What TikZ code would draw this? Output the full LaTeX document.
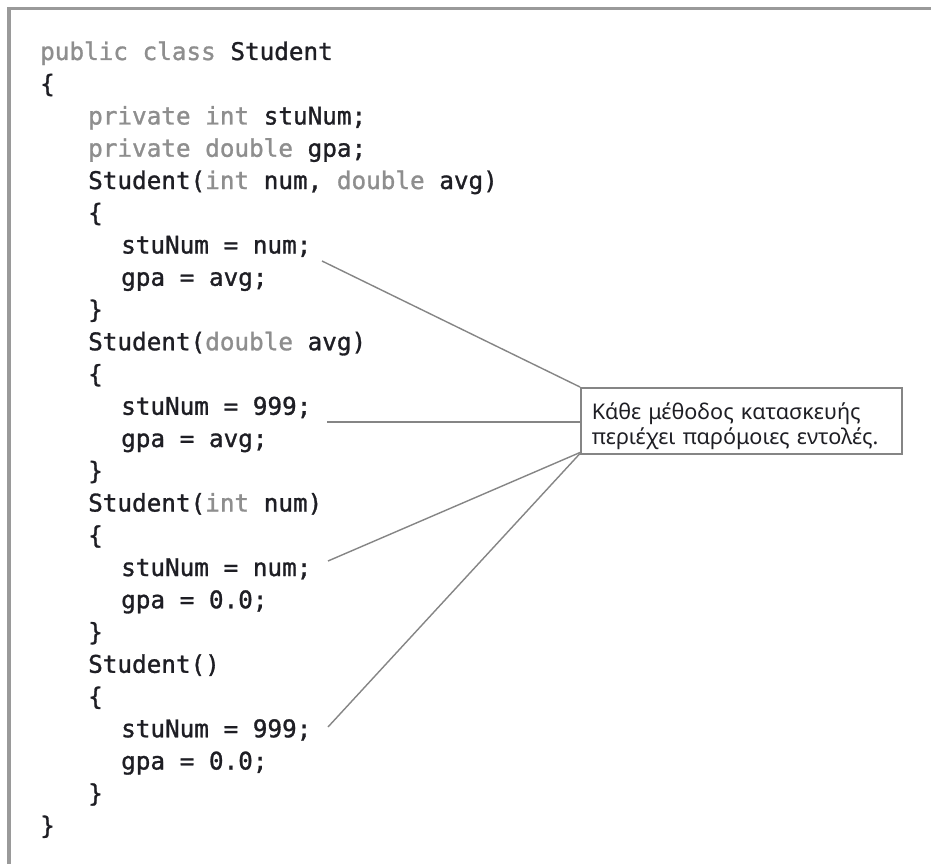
\documentclass[tikz,border=0pt]{standalone}
\usepackage{fontspec}
\newfontfamily\codefont[FakeBold=1.2]{DejaVu Sans Mono}
\newfontfamily\notefont{Noto Sans}

\definecolor{kwgray}{HTML}{8E8E8E}
\definecolor{codeink}{HTML}{1E1E24}
\definecolor{framegray}{HTML}{9A9A9A}
\definecolor{linegray}{HTML}{858585}

% keywords are set in grey
\newcommand{\kw}[1]{\textcolor{kwgray}{#1}}

\tikzset{
  code/.style={anchor=base west, inner sep=0pt, text=codeink,
    font=\codefont\fontsize{24.3pt}{32pt}\selectfont},
  notebox/.style={draw=linegray, line width=1.5pt, fill=white, align=left,
    text width=299pt, inner xsep=11pt, minimum width=321pt, minimum height=66pt,
    text=codeink, font=\notefont\fontsize{21.6pt}{25pt}\selectfont},
  callout/.style={draw=linegray, line width=1.4pt},
  frame/.style={draw=framegray, line width=3.5pt},
}

\begin{document}
\begin{tikzpicture}[x=1pt, y=-1pt]
\useasboundingbox[fill=white] (0,0) rectangle (931,864);

\draw[frame] (9,864) -- (9,8.5) -- (931,8.5);

% class header
\node[code] (cls)   at (40,60)     {\kw{public class} Student};
\node[code] (open)  at (40,92.25)  {\{};
\node[code] (fld1)  at (88,124.5)  {\kw{private int} stuNum;};
\node[code] (fld2)  at (88,156.75) {\kw{private double} gpa;};

% first constructor
\node[code] (ctorA)  at (88,189)    {Student(\kw{int} num, \kw{double} avg)};
\node[code] (openA)  at (88,221.25) {\{};
\node[code] (numA)   at (121,253.5) {stuNum = num;};
\node[code] (gpaA)   at (121,285.75){gpa = avg;};
\node[code] (closeA) at (88,318)    {\}};

% second constructor
\node[code] (ctorB)  at (88,350.25) {Student(\kw{double} avg)};
\node[code] (openB)  at (88,382.5)  {\{};
\node[code] (numB)   at (121,414.75){stuNum = 999;};
\node[code] (gpaB)   at (121,447)   {gpa = avg;};
\node[code] (closeB) at (88,479.25) {\}};

% third constructor
\node[code] (ctorC)  at (88,511.5)  {Student(\kw{int} num)};
\node[code] (openC)  at (88,543.75) {\{};
\node[code] (numC)   at (121,576)   {stuNum = num;};
\node[code] (gpaC)   at (121,608.25){gpa = 0.0;};
\node[code] (closeC) at (88,640.5)  {\}};

% default constructor
\node[code] (ctorD)  at (88,672.75) {Student()};
\node[code] (openD)  at (88,705)    {\{};
\node[code] (numD)   at (121,737.25){stuNum = 999;};
\node[code] (gpaD)   at (121,769.5) {gpa = 0.0;};
\node[code] (closeD) at (88,801.75) {\}};

\node[code] (close) at (40,834) {\}};

% the note and its pointers (the strut pushes the two lines down a little)
\node[notebox, anchor=north west] (note) at (580,387)
  {\rule{0pt}{27pt}Κάθε μέθοδος κατασκευής\\περιέχει παρόμοιες εντολές.};

\coordinate (endA) at (322,261);
\coordinate (endB) at (327,422);
\coordinate (endC) at (328,561);
\coordinate (endD) at (328,727);

\draw[callout] (endA) -- (note.north west);
\draw[callout] (endB) -- (endB -| note.west);
\draw[callout] (endC) -- ([yshift=2pt]note.south west);
\draw[callout] (endD) -- ([yshift=1pt]note.south west);
\end{tikzpicture}
\end{document}
